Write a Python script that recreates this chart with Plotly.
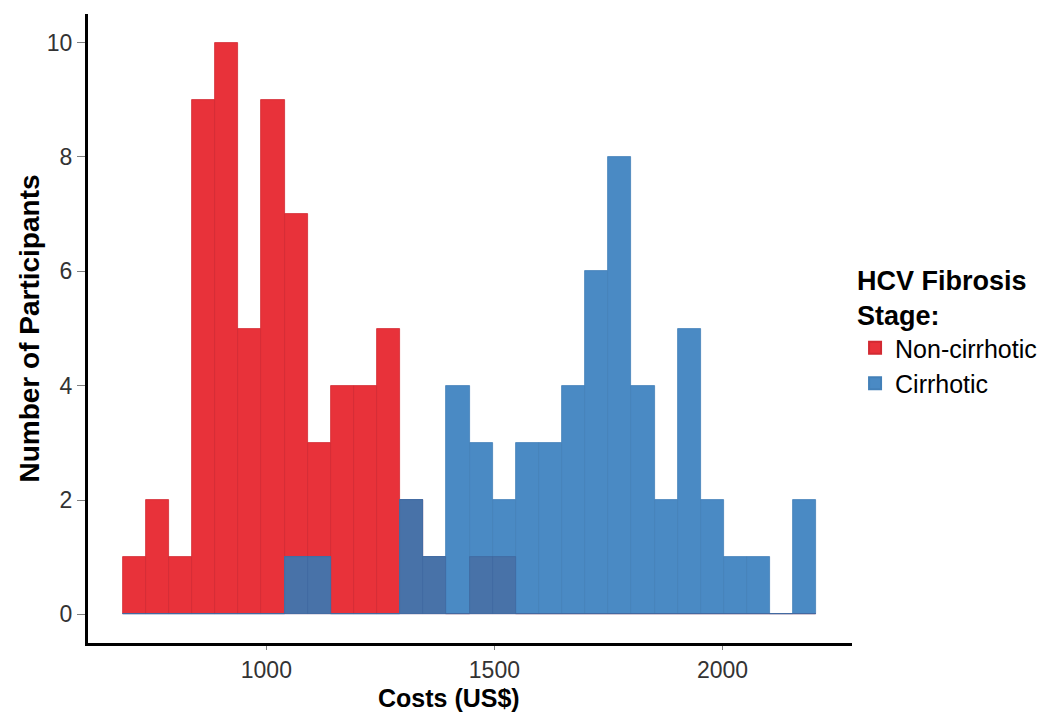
import numpy as np
import plotly.graph_objects as go

# Histogram bins (30 bins, ggplot-style)
bin_start = 685.0
bin_width = 50.7
n_bins = 30

# Counts per bin
non_cirrhotic = [1, 2, 1, 9, 10, 5, 9, 7, 3, 4, 4, 5, 2, 1, 0, 1, 1,
                 0, 0, 0, 0, 0, 0, 0, 0, 0, 0, 0, 0, 0]
cirrhotic = [0, 0, 0, 0, 0, 0, 0, 1, 1, 0, 0, 0, 2, 1, 4, 3, 2,
             3, 3, 4, 6, 8, 4, 2, 5, 2, 1, 1, 0, 2]

x_ticks = [1000, 1500, 2000]
y_ticks = [0, 2, 4, 6, 8, 10]

centers = bin_start + bin_width * (np.arange(n_bins) + 0.5)
nc = np.array(non_cirrhotic)
ci = np.array(cirrhotic)
overlap = np.minimum(nc, ci)

RED = "#E8323A"
BLUE = "#4A8AC4"
DARK = "#4872A8"

fig = go.Figure()
fig.add_trace(go.Bar(x=centers, y=nc, width=bin_width, name="Non-cirrhotic",
                     marker=dict(color=RED, line=dict(color="#D22A32", width=0.8))))
fig.add_trace(go.Bar(x=centers, y=ci, width=bin_width, name="Cirrhotic",
                     marker=dict(color=BLUE, line=dict(color="#4380B8", width=0.8))))
fig.add_trace(go.Bar(x=centers, y=overlap, width=bin_width, name="overlap", showlegend=False,
                     marker=dict(color=DARK, line=dict(color="#4068A0", width=0.8))))

# page body adds ~8px offset; compensate in size/margins
fig.update_layout(
    width=1041, height=705,
    barmode="overlay", bargap=0,
    paper_bgcolor="white", plot_bgcolor="white",
    margin=dict(l=80, r=197, t=6, b=70),
    font=dict(family="Liberation Sans, Arial, sans-serif", color="black"),
    xaxis=dict(range=[609, 2284], tickvals=x_ticks, ticktext=[str(v) for v in x_ticks],
               automargin=False,
               showgrid=False, zeroline=False, showline=True, linecolor="black", linewidth=3,
               ticks="outside", ticklen=4, tickcolor="#7f7f7f", tickwidth=1,
               tickfont=dict(size=23, color="#333333")),
    yaxis=dict(range=[-0.5, 10.5], tickvals=y_ticks, ticktext=[str(v) for v in y_ticks],
               automargin=False,
               showgrid=False, zeroline=False, showline=True, linecolor="black", linewidth=3,
               ticks="outside", ticklen=8, tickcolor="#7f7f7f", tickwidth=1,
               tickfont=dict(size=23, color="#333333"),
               title=dict(text="<b>Number of Participants</b>", font=dict(size=28), standoff=0)),
    legend=dict(x=1.004, y=0.617, xanchor="left", yanchor="top",
                title=dict(text="<b>HCV Fibrosis<br>Stage:</b>", font=dict(size=27)),
                font=dict(size=25), tracegroupgap=0, itemsizing="constant"),
    annotations=[dict(text="<b>Costs (US$)</b>", xref="paper", yref="paper",
                      x=0.4725, y=-0.088, xanchor="center", yanchor="middle",
                      showarrow=False, font=dict(size=25, color="black"))],
)

fig.write_html("out.html")
